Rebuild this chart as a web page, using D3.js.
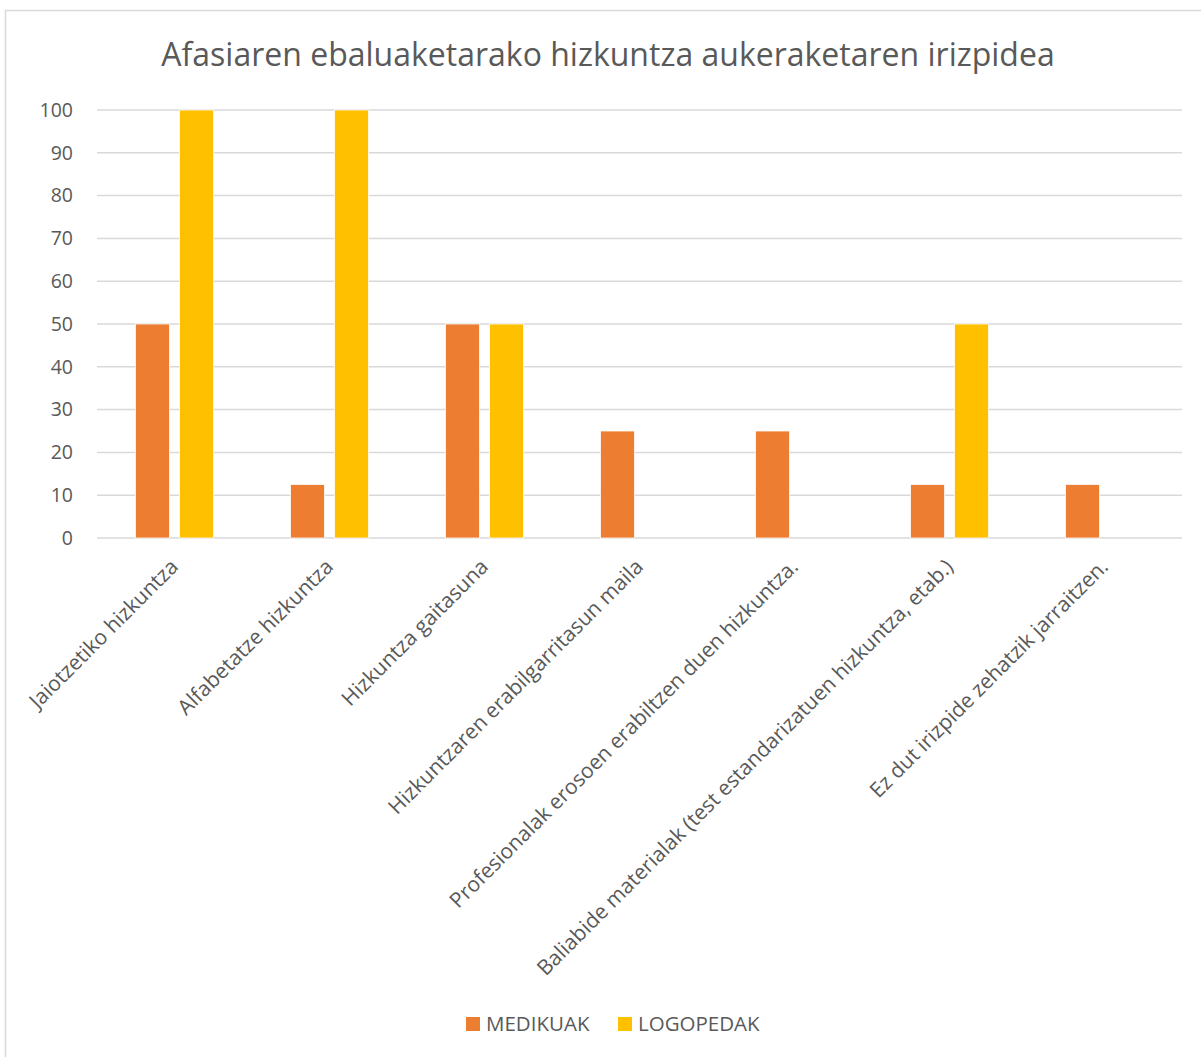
<!DOCTYPE html>
<html>
<head>
<meta charset="utf-8">
<script src="https://cdn.jsdelivr.net/npm/d3@7"></script>
<style>
  body { margin: 0; background: #fff; }
  text { font-family: "Open Sans", sans-serif; fill: #595959; }
</style>
</head>
<body>
<div id="chart"></div>
<script>
// chart data
var categories = [
  "Jaiotzetiko hizkuntza",
  "Alfabetatze hizkuntza",
  "Hizkuntza gaitasuna",
  "Hizkuntzaren erabilgarritasun maila",
  "Profesionalak erosoen erabiltzen duen hizkuntza.",
  "Baliabide materialak (test estandarizatuen hizkuntza, etab.)",
  "Ez dut irizpide zehatzik jarraitzen."
];
var seriesNames = ["MEDIKUAK", "LOGOPEDAK"];
var medikuak = [50, 12.5, 50, 25, 25, 12.5, 12.5];
var logopedak = [100, 100, 50, 0, 0, 50, 0];
var yTicks = [0, 10, 20, 30, 40, 50, 60, 70, 80, 90, 100];
var colors = ["#ED7D31", "#FFC000"];

var svgWidth = 1201;
var svgHeight = 1057;

var chartMargin = { top: 110, right: 19, bottom: 519, left: 97 };
var chartWidth = svgWidth - chartMargin.left - chartMargin.right;
var chartHeight = svgHeight - chartMargin.top - chartMargin.bottom;

var svg = d3.select("#chart")
  .append("svg")
  .attr("width", svgWidth)
  .attr("height", svgHeight);

// outer frame
svg.append("rect")
  .attr("x", 5.5).attr("y", 10.5)
  .attr("width", 1210).attr("height", 1060)
  .attr("fill", "none")
  .attr("stroke", "#d9d9d9")
  .attr("stroke-width", 1.5);

// title
svg.append("text")
  .attr("x", 608)
  .attr("y", 66)
  .attr("text-anchor", "middle")
  .attr("font-size", "32px")
  .text("Afasiaren ebaluaketarako hizkuntza aukeraketaren irizpidea");

var chartGroup = svg.append("g")
  .attr("transform", `translate(${chartMargin.left}, ${chartMargin.top})`);

var x0 = d3.scaleBand()
  .domain(categories)
  .range([0, chartWidth]);

var x1 = d3.scaleBand()
  .domain(seriesNames)
  .range([0, 78])
  .paddingInner(10 / 44);

var y = d3.scaleLinear()
  .domain([0, 100])
  .range([chartHeight, 0]);

// gridlines
chartGroup.append("g")
  .selectAll("line")
  .data(yTicks)
  .enter()
  .append("line")
  .attr("x1", 0)
  .attr("x2", chartWidth)
  .attr("y1", d => y(d))
  .attr("y2", d => y(d))
  .attr("stroke", "#d9d9d9")
  .attr("stroke-width", 1.5);

// y axis labels
var leftAxis = d3.axisLeft(y).tickValues(yTicks).tickSize(0).tickPadding(24);
var yAxisG = chartGroup.append("g").call(leftAxis);
yAxisG.select(".domain").remove();
yAxisG.selectAll("text")
  .attr("font-size", "19.5px")
  .style("font-family", "'Open Sans', sans-serif")
  .attr("fill", "#595959");

// bars
var rows = categories.map(function(c, i) {
  return { cat: c, values: [medikuak[i], logopedak[i]] };
});

var groups = chartGroup.selectAll(".grp")
  .data(rows)
  .enter()
  .append("g")
  .attr("transform", d => `translate(${x0(d.cat) + x0.bandwidth() / 2 - 39}, 0)`);

groups.selectAll("rect")
  .data(d => d.values.map((v, k) => ({ name: seriesNames[k], value: v, k: k })))
  .enter()
  .append("rect")
  .filter(d => d.value > 0)
  .attr("x", d => x1(d.name))
  .attr("y", d => y(d.value))
  .attr("width", x1.bandwidth())
  .attr("height", d => chartHeight - y(d.value))
  .attr("fill", d => colors[d.k])
  .attr("stroke", "#fff")
  .attr("stroke-width", 0.75);

// rotated category labels
chartGroup.selectAll(".catLabel")
  .data(categories)
  .enter()
  .append("text")
  .attr("class", "catLabel")
  .attr("text-anchor", "end")
  .attr("font-size", "21px")
  .attr("transform", d => `translate(${x0(d) + x0.bandwidth() / 2 + 5}, ${chartHeight + 30}) rotate(-45)`)
  .text(d => d);

// legend
var legend = svg.append("g");
var legendX = [466, 618];
seriesNames.forEach(function(name, i) {
  legend.append("rect")
    .attr("x", legendX[i])
    .attr("y", 1017)
    .attr("width", 14)
    .attr("height", 14)
    .attr("fill", colors[i]);
  legend.append("text")
    .attr("x", legendX[i] + 20)
    .attr("y", 1031)
    .attr("font-size", "20.5px")
    .text(name);
});
</script>
</body>
</html>
